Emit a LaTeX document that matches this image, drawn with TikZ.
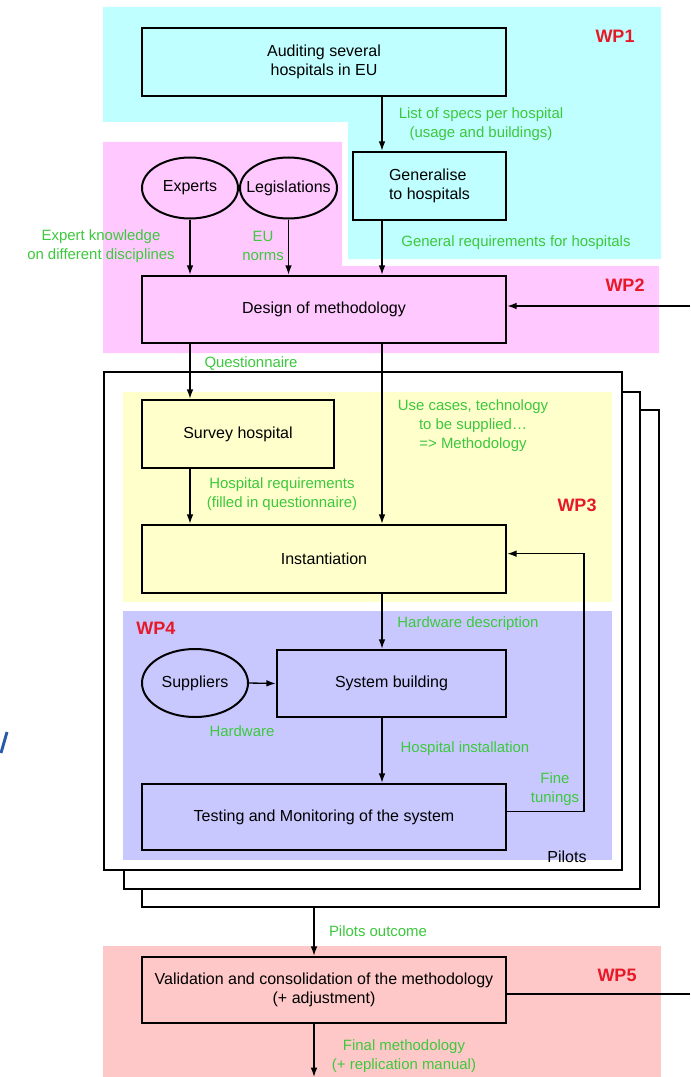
\documentclass[tikz,border=0pt]{standalone}
\usepackage{fontspec}
\setmainfont{Liberation Sans}
\usetikzlibrary{shapes.geometric,arrows.meta}
\definecolor{wpcyan}{RGB}{192,255,255}
\definecolor{wprosa}{RGB}{255,200,255}
\definecolor{wpgelb}{RGB}{255,255,204}
\definecolor{wpblau}{RGB}{200,200,255}
\definecolor{wplachs}{RGB}{255,200,200}
\definecolor{wpgruen}{RGB}{60,200,60}
\definecolor{wprot}{RGB}{230,25,40}
\definecolor{randblau}{RGB}{40,90,170}
\begin{document}
\begin{tikzpicture}[x=0.75pt, y=-0.75pt,
	kasten/.style={draw, line width=1.9pt, align=center, inner sep=0pt, font=\fontsize{12}{14.3}\selectfont},
	oval/.style={ellipse, draw, line width=1.5pt, inner sep=0pt, font=\fontsize{12}{14.3}\selectfont},
	gruen/.style={text=wpgruen, align=center, font=\fontsize{11.2}{14.3}\selectfont},
	wp/.style={text=wprot, font=\fontsize{13.5}{16}\selectfont\bfseries},
	seite/.style={draw, line width=0.8pt, fill=white, inner sep=0pt},
	pfeil/.style={line width=1pt, -{Latex[length=7pt, width=5pt]}}]
	\useasboundingbox (0,0) rectangle (690,1077);
	
	%Hintergruende der Arbeitspakete
	\fill[wpcyan] (103,7) -- (661,7) -- (661,259) -- (348,259) -- (348,122) -- (103,122) -- cycle;%WP1
	\fill[wprosa] (103,142) -- (342,142) -- (342,266) -- (659,266) -- (659,353) -- (103,353) -- cycle;%WP2
	\fill[wplachs] (103,946) rectangle (661,1077);%WP5
	
	%Pilotseiten
	\node[seite, minimum width=387.75pt, minimum height=372.75pt] (seite3) at (400.5,658.5) {};
	\node[seite, minimum width=387pt, minimum height=372.75pt] (seite2) at (382,640.5) {};
	\node[seite, minimum width=388.5pt, minimum height=373.5pt] (seite1) at (363,621) {};
	\fill[wpgelb] (123,392) rectangle (612,602);%WP3
	\fill[wpblau] (123,611) rectangle (612,860);%WP4
	
	\draw[randblau, line width=2.2pt] (1,753) -- (7,732);%Rest am Rand
	
	%Hilfskoordinaten
	\coordinate (lx) at (190,0);
	\coordinate (mx) at (382,0);
	\coordinate (px) at (314,0);
	\coordinate (fb) at (584,0);
	\coordinate (rand1) at (690,306);
	\coordinate (rand2) at (690,994);
	\coordinate (unten) at (314,1077);
	
	\node[wp] (wp1) at (615,36) {WP1};
	\node[wp] (wp2) at (625,285) {WP2};
	\node[wp] (wp3) at (577,505) {WP3};
	\node[wp] (wp4) at (156,628) {WP4};
	\node[wp] (wp5) at (617,975) {WP5};
	
	\node[kasten, minimum width=273pt, minimum height=51pt] (audit) at (324,62) {Auditing several\\hospitals in EU};
	\node[kasten, minimum width=114.75pt, minimum height=51pt, align=left] (gen) at (429.5,186) {Generalise\\to hospitals};
	\node[oval, minimum width=72pt, minimum height=45.75pt] (experts) at (190,188) {\makebox[0pt]{Experts}};
	\node[oval, minimum width=72.75pt, minimum height=45.75pt] (legis) at (288.5,188) {\makebox[0pt]{Legislations}};
	\node[kasten, minimum width=273pt, minimum height=50.25pt] (design) at (324,309.5) {Design of methodology};
	\node[kasten, minimum width=144pt, minimum height=51pt] (survey) at (238,434) {Survey hospital};
	\node[kasten, minimum width=273pt, minimum height=51pt] (inst) at (324,559) {Instantiation};
	\node[oval, minimum width=79.5pt, minimum height=51pt] (suppl) at (195,683) {\makebox[0pt]{Suppliers}};
	\node[kasten, minimum width=171.75pt, minimum height=50.25pt] (sysb) at (391.5,683.5) {System building};
	\node[kasten, minimum width=273pt, minimum height=49.5pt] (test) at (324,817) {Testing and Monitoring of the system};
	\node[font=\fontsize{12}{14.3}\selectfont] (pilots) at (567,857) {Pilots};
	\node[kasten, minimum width=273pt, minimum height=49.5pt] (valid) at (324,990) {Validation and consolidation of the methodology\\(+ adjustment)};
	
	%Beschriftungen
	\node[gruen] (spec) at (481,124) {List of specs per hospital\\(usage and buildings)};
	\node[gruen] (allg) at (516,243) {General requirements for hospitals};
	\node[gruen] (wissen) at (101,246) {Expert knowledge\\on different disciplines};
	\node[gruen] (normen) at (263,246) {EU\\norms};
	\node[gruen] (frage) at (251,363) {Questionnaire};
	\node[gruen] (use) at (473,426) {Use cases, technology\\to be supplied\dots\\=> Methodology};
	\node[gruen] (hreq) at (282,494) {Hospital requirements\\(filled in questionnaire)};
	\node[gruen] (hwd) at (468,624) {Hardware description};
	\node[gruen] (hw) at (242,731) {Hardware};
	\node[gruen] (hinst) at (465,749) {Hospital installation};
	\node[gruen] (fine) at (555,789) {Fine\\tunings};
	\node[gruen] (pout) at (378,931) {Pilots outcome};
	\node[gruen] (final) at (404,1056) {Final methodology\\(+ replication manual)};
	
	%Pfeile
	\draw[pfeil] (audit.south -| mx) -- (gen.north -| mx);
	\draw[pfeil] (experts.south) -- (design.north -| experts.south);
	\draw[pfeil] (legis.south) -- (design.north -| legis.south);
	\draw[pfeil] (gen.south -| mx) -- (design.north -| mx);
	\draw[pfeil] (rand1) -- (design.east |- rand1);
	\draw[pfeil] (design.south -| lx) -- (survey.north -| lx);
	\draw[pfeil] (design.south -| mx) -- (inst.north -| mx);
	\draw[pfeil] (survey.south -| lx) -- (inst.north -| lx);
	\draw[pfeil] (inst.south -| mx) -- (sysb.north -| mx);
	\draw[pfeil] (suppl.east) -- (sysb.west);
	\draw[pfeil] (sysb.south -| mx) -- (test.north -| mx);
	\draw[pfeil] ([yshift=4pt]test.east) -| ([yshift=4pt]inst.east -| fb) -- ([yshift=4pt]inst.east);%Fine tunings
	\draw[pfeil] (seite3.south -| px) -- (valid.north -| px);
	\draw[line width=1pt] (valid.east |- rand2) -- (rand2);
	\draw[pfeil] (valid.south -| px) -- (unten);
\end{tikzpicture}
\end{document}
